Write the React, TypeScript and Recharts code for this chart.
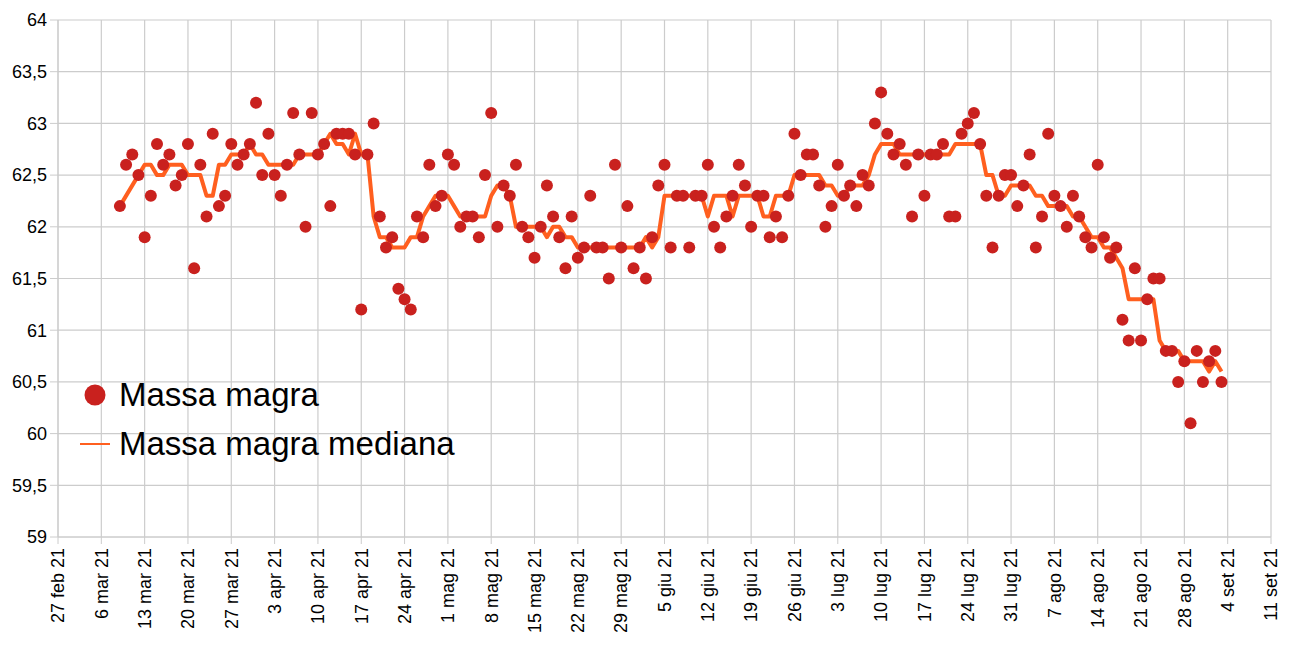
import React from 'react'
import {
  ComposedChart,
  Line,
  Scatter,
  XAxis,
  YAxis,
  CartesianGrid,
  Legend
} from 'recharts'

// giorni contati dal 27 feb 21; la prima misura è del 9 mar 21
const firstDay = 10

const massa = [
  62.2, 62.6, 62.7, 62.5, 61.9, 62.3, 62.8, 62.6, 62.7, 62.4,
  62.5, 62.8, 61.6, 62.6, 62.1, 62.9, 62.2, 62.3, 62.8, 62.6,
  62.7, 62.8, 63.2, 62.5, 62.9, 62.5, 62.3, 62.6, 63.1, 62.7,
  62.0, 63.1, 62.7, 62.8, 62.2, 62.9, 62.9, 62.9, 62.7, 61.2,
  62.7, 63.0, 62.1, 61.8, 61.9, 61.4, 61.3, 61.2, 62.1, 61.9,
  62.6, 62.2, 62.3, 62.7, 62.6, 62.0, 62.1, 62.1, 61.9, 62.5,
  63.1, 62.0, 62.4, 62.3, 62.6, 62.0, 61.9, 61.7, 62.0, 62.4,
  62.1, 61.9, 61.6, 62.1, 61.7, 61.8, 62.3, 61.8, 61.8, 61.5,
  62.6, 61.8, 62.2, 61.6, 61.8, 61.5, 61.9, 62.4, 62.6, 61.8,
  62.3, 62.3, 61.8, 62.3, 62.3, 62.6, 62.0, 61.8, 62.1, 62.3,
  62.6, 62.4, 62.0, 62.3, 62.3, 61.9, 62.1, 61.9, 62.3, 62.9,
  62.5, 62.7, 62.7, 62.4, 62.0, 62.2, 62.6, 62.3, 62.4, 62.2,
  62.5, 62.4, 63.0, 63.3, 62.9, 62.7, 62.8, 62.6, 62.1, 62.7,
  62.3, 62.7, 62.7, 62.8, 62.1, 62.1, 62.9, 63.0, 63.1, 62.8,
  62.3, 61.8, 62.3, 62.5, 62.5, 62.2, 62.4, 62.7, 61.8, 62.1,
  62.9, 62.3, 62.2, 62.0, 62.3, 62.1, 61.9, 61.8, 62.6, 61.9,
  61.7, 61.8, 61.1, 60.9, 61.6, 60.9, 61.3, 61.5, 61.5, 60.8,
  60.8, 60.5, 60.7, 60.1, 60.8, 60.5, 60.7, 60.8, 60.5
]

const mediana = [
  62.2, null, null, 62.5, 62.6, 62.6, 62.5, 62.5, 62.6, 62.6,
  62.6, 62.5, 62.5, 62.5, 62.3, 62.3, 62.6, 62.6, 62.7, 62.7,
  62.7, 62.8, 62.7, 62.7, 62.6, 62.6, 62.6, 62.6, 62.6, 62.7,
  62.7, 62.7, 62.7, 62.8, 62.9, 62.8, 62.8, 62.7, 62.9, 62.7,
  62.7, 62.1, 61.9, 61.9, 61.8, 61.8, 61.8, 61.9, 61.9, 62.1,
  62.2, 62.3, 62.3, 62.3, 62.2, 62.1, 62.1, 62.1, 62.1, 62.1,
  62.3, 62.4, 62.4, 62.3, 62.0, 62.0, 62.0, 62.0, 62.0, 61.9,
  62.0, 62.0, 61.9, 61.9, 61.8, 61.8, 61.8, 61.8, 61.8, 61.8,
  61.8, 61.8, 61.8, 61.8, 61.8, 61.9, 61.8, 61.9, 62.3, 62.3,
  62.3, 62.3, 62.3, 62.3, 62.3, 62.1, 62.3, 62.3, 62.3, 62.1,
  62.3, 62.3, 62.3, 62.3, 62.1, 62.1, 62.3, 62.3, 62.3, 62.5,
  62.5, 62.5, 62.5, 62.5, 62.4, 62.4, 62.3, 62.3, 62.4, 62.4,
  62.4, 62.5, 62.7, 62.8, 62.8, 62.8, 62.7, 62.7, 62.7, 62.7,
  62.7, 62.7, 62.7, 62.7, 62.7, 62.8, 62.8, 62.8, 62.8, 62.8,
  62.5, 62.5, 62.3, 62.3, 62.4, 62.4, 62.4, 62.4, 62.3, 62.3,
  62.2, 62.2, 62.2, 62.2, 62.1, 62.1, 62.0, 61.9, 61.9, 61.8,
  61.8, 61.7, 61.6, 61.3, 61.3, 61.3, 61.3, 61.3, 60.9, 60.8,
  60.8, 60.8, 60.7, 60.7, 60.7, 60.7, 60.6, 60.7, 60.6
]

const dateLabels = [
  '27 feb 21', '6 mar 21', '13 mar 21', '20 mar 21', '27 mar 21',
  '3 apr 21', '10 apr 21', '17 apr 21', '24 apr 21', '1 mag 21',
  '8 mag 21', '15 mag 21', '22 mag 21', '29 mag 21', '5 giu 21',
  '12 giu 21', '19 giu 21', '26 giu 21', '3 lug 21', '10 lug 21',
  '17 lug 21', '24 lug 21', '31 lug 21', '7 ago 21', '14 ago 21',
  '21 ago 21', '28 ago 21', '4 set 21', '11 set 21'
]

const yTicks = [59, 59.5, 60, 60.5, 61, 61.5, 62, 62.5, 63, 63.5, 64]

const xTicks = dateLabels.map((_, i) => i * 7)

const data = massa.map((m, i) => ({
  day: firstDay + i,
  massa: m,
  mediana: mediana[i]
}))

const FONT = '"Liberation Sans", Arial, sans-serif'
const DOT = '#c9211e'
const LINE = '#ff5f1f'
const GRID = '#cccccc'

const DateTick = (props: any) => {
  const { x, y, payload } = props
  return (
    <g transform={`translate(${x},${y})`}>
      <text
        transform='rotate(-90)'
        textAnchor='end'
        dy='0.35em'
        fontSize={18}
        fontFamily={FONT}
        fill='#000'
      >
        {dateLabels[Math.round(payload.value / 7)]}
      </text>
    </g>
  )
}

const LegendBox = () => (
  <div style={{ fontFamily: FONT, fontSize: 33, color: '#000' }}>
    <div style={{ display: 'flex', alignItems: 'center', height: 49 }}>
      <svg width={30} height={24} style={{ marginRight: 9 }}>
        <circle cx={15} cy={12} r={10.5} fill={DOT} />
      </svg>
      <span style={{ lineHeight: '49px' }}>Massa magra</span>
    </div>
    <div style={{ display: 'flex', alignItems: 'center', height: 49 }}>
      <svg width={30} height={24} style={{ marginRight: 9 }}>
        <line x1={0} y1={12} x2={30} y2={12} stroke={LINE} strokeWidth={2} />
      </svg>
      <span style={{ lineHeight: '49px' }}>Massa magra mediana</span>
    </div>
  </div>
)

const MassaChart: React.FC = () => {
  return (
    <ComposedChart
      width={1292}
      height={652}
      data={data}
      margin={{ top: 20, right: 21, left: 0, bottom: 0 }}
    >
      <CartesianGrid stroke={GRID} strokeWidth={1.2} />
      <XAxis
        dataKey='day'
        type='number'
        domain={[0, 196]}
        ticks={xTicks}
        interval={0}
        height={115}
        tick={<DateTick />}
        tickSize={7}
        tickMargin={4}
        stroke={GRID}
        axisLine={{ stroke: GRID }}
        tickLine={{ stroke: GRID }}
      />
      <YAxis
        type='number'
        domain={[59, 64]}
        ticks={yTicks}
        interval={0}
        width={58}
        tickSize={8}
        tickMargin={3}
        tickFormatter={(v: number) => String(v).replace('.', ',')}
        tick={{ fill: '#000', fontSize: 18, fontFamily: FONT }}
        axisLine={{ stroke: GRID }}
        tickLine={{ stroke: GRID }}
      />
      <Legend
        layout='vertical'
        align='center'
        verticalAlign='middle'
        content={<LegendBox />}
        wrapperStyle={{ left: 80, top: 370, width: 440, height: 98 }}
      />
      <Line
        name='Massa magra mediana'
        dataKey='mediana'
        stroke={LINE}
        strokeWidth={4}
        strokeLinejoin='round'
        dot={false}
        activeDot={false}
        connectNulls
        isAnimationActive={false}
      />
      <Scatter
        name='Massa magra'
        dataKey='massa'
        fill={DOT}
        shape={(p: any) => <circle cx={p.cx} cy={p.cy} r={6} fill={DOT} />}
        isAnimationActive={false}
      />
    </ComposedChart>
  )
}

export default function App() {
  return (
    <div style={{ position: 'absolute', left: 0, top: 0 }}>
      <MassaChart />
    </div>
  )
}
